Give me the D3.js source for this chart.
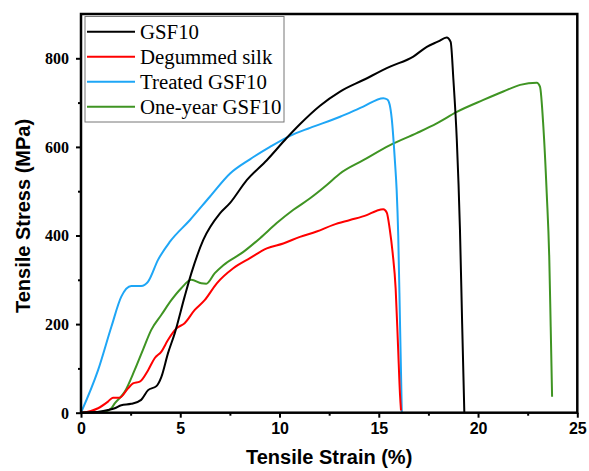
<!DOCTYPE html>
<html><head><meta charset="utf-8">
<script src="https://cdn.jsdelivr.net/npm/d3@7"></script>
<style>body{margin:0;background:#fff}svg{display:block}</style>
</head><body>
<svg id="c" width="589" height="471"></svg>
<script>
// ---- data ----
const seriesNames = ["GSF10", "Degummed silk", "Treated GSF10", "One-year GSF10"];
const seriesColors = ["#000000", "#ff0000", "#1ea6f6", "#3f9423"];

const gsfStrain = [0, 0.5, 1.0, 1.36, 1.7, 2.03, 2.53, 3.03, 3.38, 3.8, 4.05, 4.38, 4.72, 5.22, 5.56, 6.16, 7.0, 7.5, 8.35, 9.36, 10.36, 11.0, 12.04, 13.05, 14.22, 15.57, 16.74, 17.42, 18.0, 18.42, 18.62, 18.76, 18.93, 19.09, 19.2, 19.31];
const gsfStress = [0, 1, 3, 6, 10, 17, 20, 29, 51, 60, 81, 134, 179, 262, 315, 390, 450, 473, 525, 570, 620, 650, 693, 725, 751, 781, 804, 826, 838, 847, 837, 751, 616, 412, 200, 0];

const degStrain = [0, 0.5, 0.86, 1.36, 1.61, 1.95, 2.37, 2.62, 2.96, 3.38, 3.71, 4.05, 4.38, 4.8, 5.22, 5.73, 6.23, 6.84, 7.67, 8.51, 9.36, 10.19, 11.03, 11.87, 12.71, 13.55, 14.39, 14.9, 15.23, 15.4, 15.55, 15.7, 15.85, 15.97, 16.07, 16.12];
const degStress = [0, 4, 10, 25, 34, 34, 55, 66, 70, 96, 123, 138, 164, 190, 202, 232, 254, 292, 326, 349, 371, 382, 397, 409, 424, 435, 446, 456, 459, 452, 415, 360, 280, 150, 40, 5];

const trtStrain = [0, 0.86, 1.53, 2.03, 2.53, 3.03, 3.38, 3.88, 4.48, 5.49, 6.5, 7.51, 8.51, 9.52, 10.53, 11.54, 13.05, 14.22, 15.23, 15.43, 15.55, 15.65, 15.82, 15.9, 15.98, 16.07, 16.16];
const trtStress = [0, 96, 194, 262, 286, 286, 296, 345, 386, 435, 488, 540, 572, 600, 625, 643, 668, 691, 710, 707, 695, 665, 563, 503, 400, 200, 0];

const oneStrain = [0, 0.5, 1.0, 1.3, 1.53, 1.7, 2.2, 2.7, 3.12, 3.54, 4.05, 4.55, 5.05, 5.56, 6.06, 6.31, 6.74, 7.17, 8.18, 9.02, 9.86, 10.7, 11.54, 12.38, 13.05, 14.22, 15.57, 16.91, 17.92, 18.93, 20.27, 21.27, 22.12, 22.96, 23.12, 23.29, 23.46, 23.59, 23.66, 23.73];
const oneStress = [0, 1, 2, 4, 10, 21, 47, 96, 142, 187, 221, 254, 281, 300, 292, 291, 315, 333, 363, 394, 428, 458, 484, 514, 540, 570, 604, 631, 653, 679, 706, 725, 740, 745, 736, 646, 495, 345, 194, 36];

const xMajorTicks = [0, 5, 10, 15, 20, 25];
const xMinorTicks = [2.5, 7.5, 12.5, 17.5, 22.5];
const yMajorTicks = [0, 200, 400, 600, 800];
const yMinorTicks = [100, 300, 500, 700];
const xTitle = "Tensile Strain (%)";
const yTitle = "Tensile Stress (MPa)";

// ---- chart ----
const svg = d3.select("#c");
const L = 81, R = 577.3, T = 14, B = 412.7;
const x = d3.scaleLinear().domain([0, 25]).range([L, R]);
const y = d3.scaleLinear().domain([0, 900]).range([B, T]);

const series = [
  {name: seriesNames[0], color: seriesColors[0], xs: gsfStrain, ys: gsfStress},
  {name: seriesNames[1], color: seriesColors[1], xs: degStrain, ys: degStress},
  {name: seriesNames[2], color: seriesColors[2], xs: trtStrain, ys: trtStress},
  {name: seriesNames[3], color: seriesColors[3], xs: oneStrain, ys: oneStress}
];

const line = d3.line().x(d => x(d[0])).y(d => y(d[1])).curve(d3.curveMonotoneX);
const drawOrder = [3, 2, 1, 0];
drawOrder.forEach(i => {
  const s = series[i];
  svg.append("path")
    .datum(s.xs.map((v, k) => [v, s.ys[k]]))
    .attr("d", line)
    .attr("fill", "none")
    .attr("stroke", s.color)
    .attr("stroke-width", 2)
    .attr("stroke-linejoin", "round");
});

// axes
const xAxis = svg.append("g").attr("transform", `translate(0,${B})`)
  .call(d3.axisBottom(x).tickValues(xMajorTicks).tickSize(5).tickSizeOuter(0).tickFormat(d3.format("d")));
const xMinor = svg.append("g").attr("transform", `translate(0,${B})`)
  .call(d3.axisBottom(x).tickValues(xMinorTicks).tickSize(3).tickSizeOuter(0).tickFormat(""));
const yAxis = svg.append("g").attr("transform", `translate(${L},0)`)
  .call(d3.axisLeft(y).tickValues(yMajorTicks).tickSize(5).tickSizeOuter(0).tickFormat(d3.format("d")));
const yMinor = svg.append("g").attr("transform", `translate(${L},0)`)
  .call(d3.axisLeft(y).tickValues(yMinorTicks).tickSize(3).tickSizeOuter(0).tickFormat(""));

[xAxis, xMinor, yAxis, yMinor].forEach(g => {
  g.select(".domain").remove();
  g.selectAll(".tick line").attr("stroke", "#000").attr("stroke-width", 2);
});
xAxis.selectAll(".tick text")
  .attr("font-family", "Arial, 'Liberation Sans', sans-serif")
  .attr("font-weight", "bold").attr("font-size", 16).attr("fill", "#000")
  .attr("y", 10).attr("dy", "0.71em");
yAxis.selectAll(".tick text")
  .attr("font-family", "'Times New Roman', 'Liberation Serif', serif")
  .attr("font-weight", "bold").attr("font-size", 16).attr("fill", "#000")
  .attr("x", -12).attr("dy", "0.34em");

// frame
svg.append("rect").attr("x", L).attr("y", T).attr("width", R - L).attr("height", B - T)
  .attr("fill", "none").attr("stroke", "#000").attr("stroke-width", 2.5);

// titles
svg.append("text").attr("x", (L + R) / 2).attr("y", 464).attr("text-anchor", "middle")
  .attr("font-family", "Arial, 'Liberation Sans', sans-serif").attr("font-weight", "bold")
  .attr("font-size", 20).text(xTitle);
svg.append("text").attr("transform", `translate(30,216) rotate(-90)`).attr("text-anchor", "middle")
  .attr("font-family", "Arial, 'Liberation Sans', sans-serif").attr("font-weight", "bold")
  .attr("font-size", 20).text(yTitle);

// legend
const lg = svg.append("g");
lg.append("rect").attr("x", 85).attr("y", 16.5).attr("width", 199).attr("height", 105.5)
  .attr("fill", "#fff").attr("stroke", "#777").attr("stroke-width", 1);
series.forEach((s, i) => {
  const cy = 31.7 + i * 25;
  lg.append("line").attr("x1", 87).attr("x2", 135).attr("y1", cy).attr("y2", cy)
    .attr("stroke", s.color).attr("stroke-width", 2);
  lg.append("text").attr("x", 140).attr("y", cy + 6.8)
    .attr("font-family", "'Times New Roman', 'Liberation Serif', serif")
    .attr("font-size", 20.8).attr("fill", "#000").text(s.name);
});
</script>
</body></html>
